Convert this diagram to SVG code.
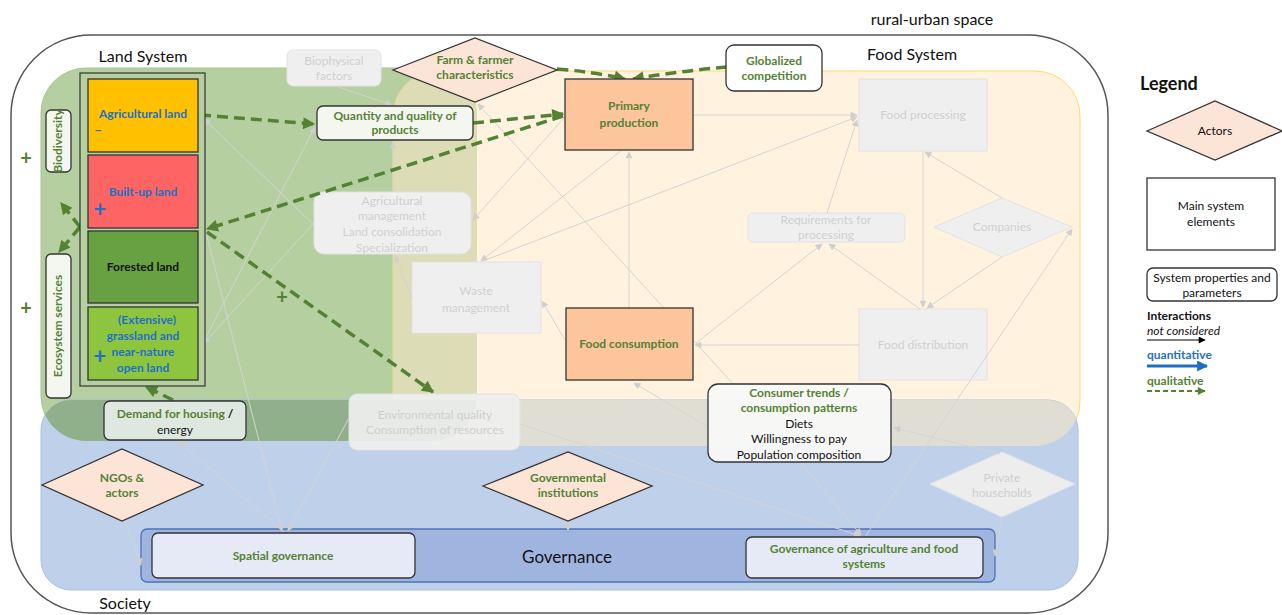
<svg xmlns="http://www.w3.org/2000/svg" width="1282" height="615" viewBox="0 0 1282 615">
  <style>
    text { font-family: Lato, "Liberation Sans", sans-serif; }
    .lbl { font-size: 12px; font-weight: bold; fill: #548235; text-anchor: middle; }
    .blu { font-size: 12px; font-weight: bold; fill: #2270c4; text-anchor: middle; }
    .blk { font-size: 12px; fill: #111; text-anchor: middle; }
    .grey { font-size: 12px; fill: #cfcfcf; text-anchor: middle; }
    .title { font-size: 16px; fill: #111; }
    .main { stroke: #333; stroke-width: 1.3; }
    .actor { fill: #fce4d6; stroke: #333; stroke-width: 1.3; }
    .prop { fill: #f4f7f0; stroke: #333; stroke-width: 1.3; }
    .off { fill: #efefef; stroke: #e2e2e2; stroke-width: 1; }
    .faint { fill: none; stroke: #d4d4d4; stroke-width: 1; marker-end: url(#fa); }
    .qual { fill: none; stroke: #548235; stroke-width: 3.5; stroke-dasharray: 11 6; marker-end: url(#ga); }
    .plus { font-size: 20px; font-weight: bold; fill: #548235; text-anchor: middle; }
  </style>
  <defs>
    <marker id="ga" viewBox="0 0 10 10" refX="9" refY="5" markerUnits="userSpaceOnUse" markerWidth="16" markerHeight="12" orient="auto">
      <path d="M0,0 L10,5 L0,10 z" fill="#548235"/>
    </marker>
    <marker id="fa" viewBox="0 0 10 10" refX="9" refY="5" markerUnits="userSpaceOnUse" markerWidth="8" markerHeight="7" orient="auto">
      <path d="M0,0 L10,5 L0,10 z" fill="#cfcfcf"/>
    </marker>
    <marker id="ka" viewBox="0 0 10 10" refX="9" refY="5" markerUnits="userSpaceOnUse" markerWidth="9" markerHeight="7" orient="auto">
      <path d="M0,0 L10,5 L0,10 z" fill="#000"/>
    </marker>
    <marker id="ba" viewBox="0 0 10 10" refX="9" refY="5" markerUnits="userSpaceOnUse" markerWidth="12" markerHeight="11" orient="auto">
      <path d="M0,0 L10,5 L0,10 z" fill="#1f6fc0"/>
    </marker>
    <marker id="gs" viewBox="0 0 10 10" refX="9" refY="5" markerUnits="userSpaceOnUse" markerWidth="10" markerHeight="8" orient="auto">
      <path d="M0,0 L10,5 L0,10 z" fill="#548235"/>
    </marker>
    <clipPath id="landClip"><rect x="41" y="68" width="436" height="373" rx="45"/></clipPath>
    <clipPath id="foodClip"><rect x="393" y="71" width="687" height="375" rx="45"/></clipPath>
  </defs>

  <rect width="1282" height="615" fill="#fff"/>

  <!-- outer rural-urban boundary -->
  <rect x="11" y="35" width="1097" height="578" rx="80" fill="none" stroke="#555" stroke-width="1.5"/>
  <text x="932" y="25" class="title" text-anchor="middle">rural-urban space</text>

  <!-- system areas and their overlaps -->
  <rect x="41" y="68" width="436" height="373" rx="45" fill="#b6cfa0" stroke="#a9c592"/>
  <rect x="393" y="71" width="687" height="375" rx="45" fill="#fff3df" stroke="#ffd966"/>
  <rect x="393" y="71" width="687" height="375" rx="45" fill="#dcdcb6" clip-path="url(#landClip)"/>
  <rect x="41" y="400" width="1037" height="190" rx="30" fill="#bfd0ea" stroke="#a9bfe2"/>
  <rect x="41" y="400" width="1037" height="190" rx="30" fill="#e0ded4" clip-path="url(#foodClip)"/>
  <rect x="41" y="400" width="1037" height="190" rx="30" fill="#8fb08a" clip-path="url(#landClip)"/>

  <text x="143" y="62" class="title" text-anchor="middle">Land System</text>
  <text x="912" y="60" class="title" text-anchor="middle">Food System</text>
  <text x="125" y="609" class="title" text-anchor="middle">Society</text>

  <!-- governance bar -->
  <rect x="141" y="529" width="854" height="53" rx="6" fill="#a0b4e0" stroke="#4f72b8" stroke-width="1.3"/>
  <text x="567" y="563" font-size="17" fill="#111" text-anchor="middle">Governance</text>

  <!-- inactive elements -->
  <g id="biophysical">
    <rect class="off" x="287" y="50" width="94" height="36" rx="6"/>
    <text class="grey" x="334" y="65">Biophysical</text>
    <text class="grey" x="334" y="80">factors</text>
  </g>
  <g id="agri-management">
    <rect class="off" x="314" y="192" width="157" height="62" rx="10"/>
    <text class="grey" x="392" y="205">Agricultural</text>
    <text class="grey" x="392" y="220">management</text>
    <text class="grey" x="392" y="236">Land consolidation</text>
    <text class="grey" x="392" y="252">Specialization</text>
  </g>
  <g id="waste">
    <rect class="off" x="412" y="262" width="129" height="71"/>
    <text class="grey" x="476" y="295">Waste</text>
    <text class="grey" x="476" y="312">management</text>
  </g>
  <g id="processing">
    <rect class="off" x="859" y="79" width="128" height="72"/>
    <text class="grey" x="923" y="119">Food processing</text>
  </g>
  <g id="requirements">
    <rect class="off" x="748" y="213" width="157" height="29" rx="5"/>
    <text class="grey" x="826" y="224">Requirements for</text>
    <text class="grey" x="826" y="239">processing</text>
  </g>
  <g id="companies">
    <polygon class="off" points="934,227 1002,198 1072,227 1002,257"/>
    <text class="grey" x="1002" y="231">Companies</text>
  </g>
  <g id="distribution">
    <rect class="off" x="859" y="309" width="128" height="71"/>
    <text class="grey" x="923" y="349">Food distribution</text>
  </g>
  <g id="env-quality">
    <rect x="349" y="394" width="171" height="56" rx="8" fill="#efefef" fill-opacity="0.92" stroke="#e2e2e2"/>
    <text class="grey" x="435" y="419">Environmental quality</text>
    <text class="grey" x="435" y="434">Consumption of resources</text>
  </g>
  <g id="households">
    <polygon points="930,484 1002,452 1075,484 1002,517" fill="#ededed" stroke="#e2e2e2"/>
    <text class="grey" x="1002" y="482">Private</text>
    <text class="grey" x="1002" y="497">households</text>
  </g>

  <!-- connectors -->
  <g id="connectors">
    <path class="faint" d="M313,224 L204,119"/>
    <path class="faint" d="M204,341 L315,127"/>
    <path class="faint" d="M313,224 L204,343"/>
    <path class="faint" d="M338,87 L392,105"/>
    <path class="faint" d="M393,192 L393,142"/>
    <path class="faint" d="M412,298 L395,256"/>
    <path class="faint" d="M565,117 L473,220"/>
    <path class="faint" d="M622,150 L481,261"/>
    <path class="faint" d="M483,261 L857,117"/>
    <path class="faint" d="M693,115 L857,115"/>
    <path class="faint" d="M827,213 L857,120"/>
    <path class="faint" d="M629,308 L629,152"/>
    <path class="faint" d="M565,340 L542,301"/>
    <path class="faint" d="M859,345 L695,345"/>
    <path class="faint" d="M696,343 L822,244"/>
    <path class="faint" d="M920,309 L829,244"/>
    <path class="faint" d="M923,152 L923,307"/>
    <path class="faint" d="M1002,198 L925,152"/>
    <path class="faint" d="M1002,257 L927,308"/>
    <path class="faint" d="M735,386 L478,104"/>
    <path class="faint" d="M708,427 L634,383"/>
    <path class="faint" d="M520,424 L860,536"/>
    <path class="faint" d="M800,462 L861,535"/>
    <path class="faint" d="M865,537 L1072,229"/>
    <path class="faint" d="M1002,517 L995,556"/>
    <path class="faint" d="M1000,454 L894,428"/>
    <path class="faint" d="M568,521 L568,530"/>
    <path class="faint" d="M206,233 L282,531"/>
    <path class="faint" d="M349,418 L288,531"/>
    <path class="faint" d="M284,532 L178,441"/>
    <path class="faint" d="M125,521 L141,565"/>

    <path class="qual" d="M200,115 L314,124"/>
    <path class="qual" d="M473,123 L563,114"/>
    <path class="qual" d="M563,116 L207,229"/>
    <path class="qual" d="M207,232 L433,392"/>
    <path class="qual" d="M557,69 Q595,72 625,79"/>
    <path class="qual" d="M727,67 Q680,71 633,79"/>
    <path class="qual" d="M173,400 L146,387"/>
    <path class="qual" d="M80,227 L59,252"/>
    <path class="qual" d="M80,227 L61,203"/>
  </g>

  <!-- land use group -->
  <g id="land-uses">
    <rect x="80" y="73" width="125" height="313" fill="#b6cfa0" stroke="#333" stroke-width="1.2"/>
  </g>
  <g id="agricultural-land">
    <rect class="main" x="88" y="79" width="110" height="73" fill="#ffc000"/>
    <text class="blu" x="143" y="118">Agricultural land</text>
    <text x="98" y="135" font-size="14" font-weight="bold" fill="#2270c4" text-anchor="middle">–</text>
  </g>
  <g id="built-up-land">
    <rect class="main" x="88" y="155" width="110" height="73" fill="#ff6464"/>
    <text class="blu" x="143" y="196">Built-up land</text>
    <text x="100" y="217" font-size="22" font-weight="bold" fill="#2270c4" text-anchor="middle">+</text>
  </g>
  <g id="forested-land">
    <rect class="main" x="88" y="231" width="110" height="72" fill="#67a142"/>
    <text class="blk" x="143" y="271" font-weight="bold">Forested land</text>
  </g>
  <g id="grassland">
    <rect class="main" x="88" y="307" width="110" height="73" fill="#8dc53e"/>
    <text class="blu" x="147" y="324">(Extensive)</text>
    <text class="blu" x="143" y="340">grassland and</text>
    <text class="blu" x="143" y="356">near-nature</text>
    <text class="blu" x="143" y="372">open land</text>
    <text x="100" y="364" font-size="22" font-weight="bold" fill="#2270c4" text-anchor="middle">+</text>
  </g>

  <g id="biodiversity">
    <rect class="prop" x="46" y="110" width="25" height="62" rx="5" fill="#e9f0e2"/>
    <text class="lbl" transform="translate(62,141) rotate(-90)">Biodiversity</text>
  </g>
  <g id="ecosystem-services">
    <rect class="prop" x="46" y="254" width="25" height="144" rx="5" fill="#e9f0e2"/>
    <text class="lbl" transform="translate(62,326) rotate(-90)">Ecosystem services</text>
  </g>
  <text class="plus" x="26" y="165">+</text>
  <text class="plus" x="26" y="315">+</text>
  <text class="plus" x="282" y="304">+</text>

  <g id="quantity-quality">
    <rect class="prop" x="317" y="106" width="156" height="34" rx="6"/>
    <text class="lbl" x="395" y="120">Quantity and quality of</text>
    <text class="lbl" x="395" y="134">products</text>
  </g>
  <g id="farm-farmer">
    <polygon class="actor" points="393,70 475,38 557,70 475,102"/>
    <text class="lbl" x="475" y="64">Farm &amp; farmer</text>
    <text class="lbl" x="475" y="79">characteristics</text>
  </g>
  <g id="globalized-competition">
    <rect class="main" x="726" y="45" width="96" height="46" rx="8" fill="#fff"/>
    <text class="lbl" x="774" y="65">Globalized</text>
    <text class="lbl" x="774" y="80">competition</text>
  </g>
  <g id="primary-production">
    <rect class="main" x="565" y="79" width="128" height="71" fill="#fdc59c"/>
    <text class="lbl" x="629" y="110">Primary</text>
    <text class="lbl" x="629" y="127">production</text>
  </g>
  <g id="food-consumption">
    <rect class="main" x="566" y="308" width="127" height="72" fill="#fdc59c"/>
    <text class="lbl" x="629" y="348">Food consumption</text>
  </g>
  <g id="demand-housing">
    <rect class="main" x="104" y="401" width="142" height="39" rx="6" fill="#dfe8e0"/>
    <text class="lbl" x="175" y="418">Demand for housing <tspan fill="#111">/</tspan></text>
    <text class="blk" x="175" y="434">energy</text>
  </g>
  <g id="consumer-trends">
    <rect class="main" x="708" y="384" width="183" height="78" rx="10" fill="#f8f8f8" fill-opacity="0.95"/>
    <text class="lbl" x="799" y="397">Consumer trends /</text>
    <text class="lbl" x="799" y="412">consumption patterns</text>
    <text class="blk" x="799" y="428">Diets</text>
    <text class="blk" x="799" y="443">Willingness to pay</text>
    <text class="blk" x="799" y="459">Population composition</text>
  </g>
  <g id="ngos">
    <polygon class="actor" points="42,485 122,449 203,485 122,521" fill="#ecdcd2"/>
    <text class="lbl" x="122" y="482">NGOs &amp;</text>
    <text class="lbl" x="122" y="497">actors</text>
  </g>
  <g id="governmental">
    <polygon class="actor" points="483,486 568,452 652,486 568,521" fill="#ecdcd2"/>
    <text class="lbl" x="568" y="482">Governmental</text>
    <text class="lbl" x="568" y="497">institutions</text>
  </g>
  <g id="spatial-governance">
    <rect class="main" x="152" y="533" width="263" height="45" rx="6" fill="#e6eaf6"/>
    <text class="lbl" x="283" y="560">Spatial governance</text>
  </g>
  <g id="agri-food-governance">
    <rect class="main" x="746" y="537" width="237" height="41" rx="6" fill="#e6eaf6"/>
    <text class="lbl" x="864" y="553">Governance of agriculture and food</text>
    <text class="lbl" x="864" y="568">systems</text>
  </g>

  <!-- legend -->
  <g id="legend">
    <text x="1140" y="90" font-size="18" font-weight="bold" fill="#111">Legend</text>
    <polygon class="actor" points="1147,131 1215,101 1282,131 1215,160"/>
    <text class="blk" x="1215" y="135">Actors</text>
    <rect class="main" x="1147" y="178" width="128" height="72" fill="#fff"/>
    <text class="blk" x="1211" y="210">Main system</text>
    <text class="blk" x="1211" y="226">elements</text>
    <rect class="main" x="1147" y="268" width="130" height="33" rx="6" fill="#fff"/>
    <text class="blk" x="1212" y="282">System properties and</text>
    <text class="blk" x="1212" y="297">parameters</text>
    <text x="1147" y="320" font-size="12" font-weight="bold" fill="#111">Interactions</text>
    <text x="1147" y="335" font-size="12" font-style="italic" fill="#111">not considered</text>
    <path d="M1147,340 L1205,340" stroke="#000" stroke-width="1.2" marker-end="url(#ka)"/>
    <text x="1147" y="359" font-size="12" font-weight="bold" fill="#1f6fc0">quantitative</text>
    <path d="M1147,366 L1207,366" stroke="#1f6fc0" stroke-width="3" marker-end="url(#ba)"/>
    <text x="1147" y="385" font-size="12" font-weight="bold" fill="#548235">qualitative</text>
    <path d="M1147,391 L1205,391" stroke="#548235" stroke-width="2" stroke-dasharray="5 3" fill="none" marker-end="url(#gs)"/>
  </g>
</svg>
